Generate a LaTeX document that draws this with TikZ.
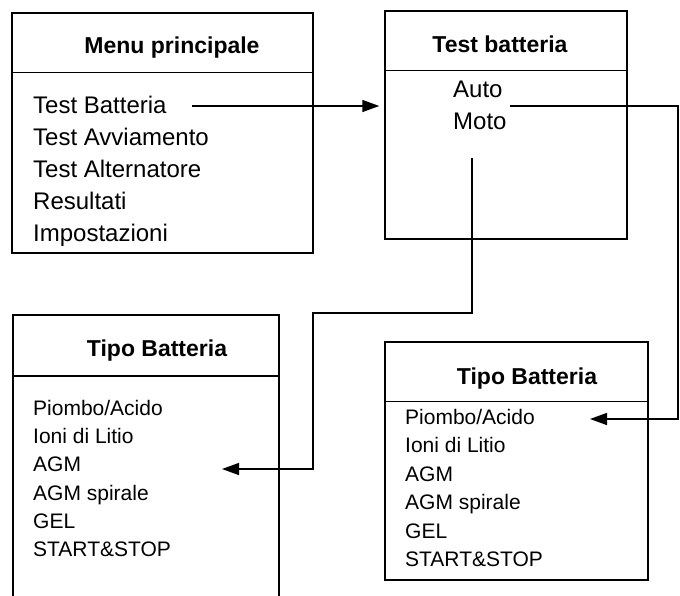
\documentclass[tikz,border=0pt]{standalone}
\usepackage{fontspec}
\setmainfont{Liberation Sans}
\usetikzlibrary{arrows.meta, positioning}

\begin{document}
\begin{tikzpicture}[
  x=1pt, y=-1pt,
  frame/.style={draw, line width=1.5pt, inner sep=0pt},
  title/.style={font=\fontsize{23}{28}\bfseries\selectfont, inner sep=0pt, text height=17pt, text depth=5pt},
  item/.style={font=\fontsize{24}{28}\selectfont, inner sep=0pt, anchor=west, text height=17pt, text depth=5pt},
  small/.style={font=\fontsize{21}{26}\selectfont, inner sep=0pt, anchor=west, text height=15.5pt, text depth=4.5pt},
  arrow/.style={-{Triangle[length=17pt, width=12pt]}, line width=1.5pt}
]
\useasboundingbox (0,0) rectangle (680,595);

% Boxes
\node[frame, minimum width=301pt, minimum height=240pt] (menu) at (162.5,133) {};
\draw[frame] ([yshift=-60pt]menu.north west) -- ([yshift=-60pt]menu.north east);
\node[frame, minimum width=242pt, minimum height=228pt] (test) at (506,125) {};
\draw[frame] ([yshift=-60pt]test.north west) -- ([yshift=-60pt]test.north east);
\draw[frame] (13,600) -- (13,315) -- (279,315) -- (279,600);
\draw[frame] (13,376) -- (279,376);
\node[frame, minimum width=263pt, minimum height=238pt] (tipo) at (516.5,461) {};
\draw[frame] ([yshift=-60pt]tipo.north west) -- ([yshift=-60pt]tipo.north east);

% Titles
\node[title] (menu title) at (172,47) {Menu principale};
\node[title] (test title) at (500,46) {Test batteria};
\node[title] (tipo left title) at (157,350) {Tipo Batteria};
\node[title] (tipo right title) at (527,378) {Tipo Batteria};

% Menu entries
\node[item] (batt) at (33,107) {Test Batteria};
\node[item, below=9.75pt of batt.south west, anchor=north west] (avv) {Test Avviamento};
\node[item, below=9.75pt of avv.south west, anchor=north west] (alt) {Test Alternatore};
\node[item, below=9.75pt of alt.south west, anchor=north west] (res) {Resultati};
\node[item, below=9.75pt of res.south west, anchor=north west] (imp) {Impostazioni};

\node[item] (auto) at (453,91) {Auto};
\node[item, below=10pt of auto.south west, anchor=north west] (moto) {Moto};

% Battery types, left
\node[small] (pb1) at (33,410) {Piombo/Acido};
\node[small, below=7.8pt of pb1.south west, anchor=north west] (li1) {Ioni di Litio};
\node[small, below=7.8pt of li1.south west, anchor=north west] (agm1) {AGM};
\node[small, below=7.8pt of agm1.south west, anchor=north west] (spi1) {AGM spirale};
\node[small, below=7.8pt of spi1.south west, anchor=north west] (gel1) {GEL};
\node[small, below=7.8pt of gel1.south west, anchor=north west] (ss1) {START\&STOP};

% Battery types, right
\node[small] (pb2) at (405,419) {Piombo/Acido};
\node[small, below=8pt of pb2.south west, anchor=north west] (li2) {Ioni di Litio};
\node[small, below=8pt of li2.south west, anchor=north west] (agm2) {AGM};
\node[small, below=8pt of agm2.south west, anchor=north west] (spi2) {AGM spirale};
\node[small, below=8pt of spi2.south west, anchor=north west] (gel2) {GEL};
\node[small, below=8pt of gel2.south west, anchor=north west] (ss2) {START\&STOP};

% Links
\coordinate (batt out) at (192,106);
\coordinate (auto out) at (510,106);
\coordinate (auto in) at (590,419);
\coordinate (moto out) at (472,158);
\coordinate (moto in) at (222,469);
\draw[arrow, shorten >=5pt] (batt out) -- (batt out -| test.west);
\draw[arrow] (auto out) -- ++(168,0) |- (auto in);
\draw[arrow] (moto out) |- (313,313) |- (moto in);

\end{tikzpicture}
\end{document}
